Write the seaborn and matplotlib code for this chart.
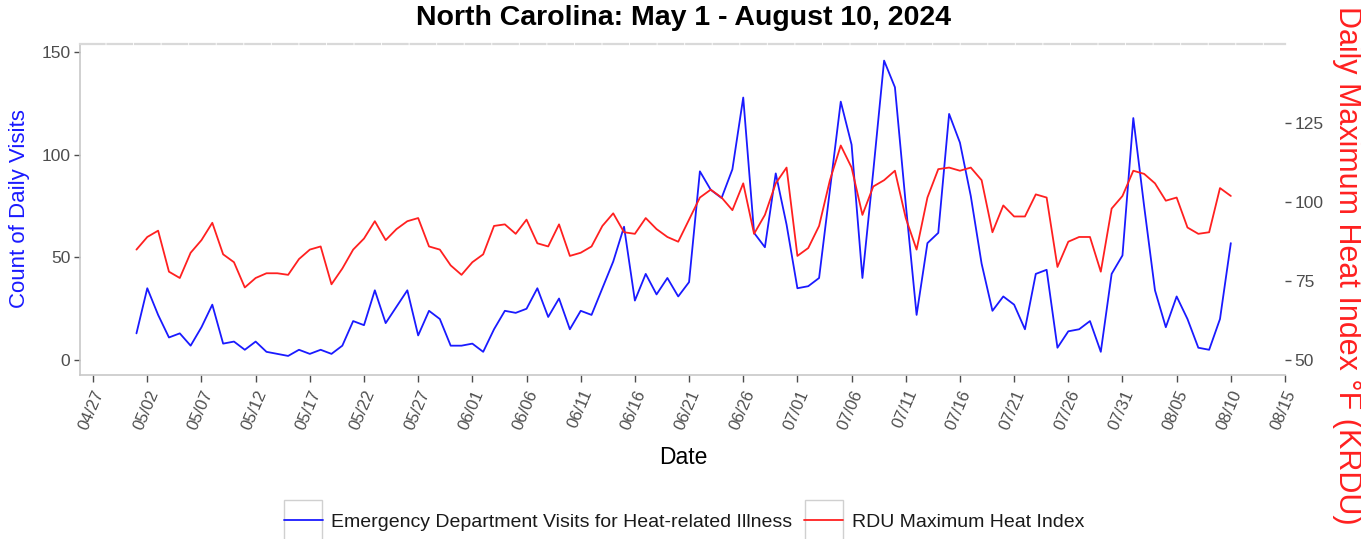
import numpy as np
import pandas as pd
import matplotlib
matplotlib.use("Agg")
import matplotlib.pyplot as plt
import matplotlib.dates as mdates
from matplotlib.patches import Rectangle
import seaborn as sns

# ---------------- data ----------------
start_date = "2024-05-01"
end_date = "2024-08-10"

ed_visits = [13, 35, 22, 11, 13, 7, 16, 27, 8, 9,
             5, 9, 4, 3, 2, 5, 3, 5, 3, 7,
             19, 17, 34, 18, 26, 34, 12, 24, 20, 7,
             7, 8, 4, 15, 24, 23, 25, 35, 21, 30,
             15, 24, 22, 35, 48, 65, 29, 42, 32, 40,
             31, 38, 92, 83, 79, 93, 128, 62, 55, 91,
             66, 35, 36, 40, 83, 126, 105, 40, 92, 146,
             133, 76, 22, 57, 62, 120, 106, 80, 47, 24,
             31, 27, 15, 42, 44, 6, 14, 15, 19, 4,
             42, 51, 118, 75, 34, 16, 31, 20, 6, 5,
             20, 57]

heat_index = [85, 89, 91, 78, 76, 84, 88, 93.5, 83.5, 81,
              73, 76, 77.5, 77.5, 77, 82, 85, 86, 74, 79,
              85, 88.5, 94, 88, 91.5, 94, 95, 86, 85, 80,
              77, 81, 83.5, 92.5, 93, 90, 94.5, 87, 86, 93,
              83, 84, 86, 92.5, 96.5, 90.5, 90, 95, 91.5, 89,
              87.5, 94.5, 101.5, 104, 101.5, 97.5, 106, 90, 96, 106,
              111, 83, 85.5, 92.5, 107, 118, 111, 96, 105, 107,
              110, 95, 85, 101.5, 110.5, 111, 110, 111, 107, 90.5,
              99, 95.5, 95.5, 102.5, 101.5, 79.5, 87.5, 89, 89, 78,
              98, 102, 110, 109, 106, 100.5, 101.5, 92, 90, 90.5,
              104.5, 102]

left_ticks = [0, 50, 100, 150]
right_ticks = [50, 75, 100, 125]
tick_start = "2024-04-27"
tick_end = "2024-08-15"

series_names = ["Emergency Department Visits for Heat-related Illness",
                "RDU Maximum Heat Index"]
title_text = "North Carolina: May 1 - August 10, 2024"
left_label = "Count of Daily Visits"
right_label = "Daily Maximum Heat Index \u00b0F (KRDU)"
x_label = "Date"

# ---------------- styling ----------------
sns.set_theme(style="white")
plt.rcParams['font.family'] = ['Liberation Sans', 'DejaVu Sans']

W, H = 1361, 539
fig = plt.figure(figsize=(W / 100, H / 100), dpi=100)
px_l, px_r, px_t, px_b = 80, 1285, 44, 375
ax = fig.add_axes([px_l / W, 1 - px_b / H, (px_r - px_l) / W, (px_b - px_t) / H])

dates = pd.date_range(start_date, end_date, freq="D")
df = pd.DataFrame({"Date": dates, "ED": ed_visits, "HI": heat_index})

blue = "#1a1aff"
red = "#ff2020"
grey_txt = "#4d4d4d"
axis_grey = "#c8c8c8"

sns.lineplot(data=df, x="Date", y="ED", ax=ax, color=blue, lw=1.3,
             label=series_names[0])
ax2 = ax.twinx()
sns.lineplot(data=df, x="Date", y="HI", ax=ax2, color=red, lw=1.3,
             label=series_names[1])

# limits
lo, hi = -7.3, 154.1
ax.set_ylim(lo, hi)
ax2.set_ylim(50 + 0.65 * lo, 50 + 0.65 * hi)
t0 = pd.Timestamp(start_date)
ax.set_xlim(t0 - pd.Timedelta(days=5.21), t0 + pd.Timedelta(days=105.95))

# ticks
ax.set_yticks(left_ticks)
ax2.set_yticks(right_ticks)
ax.set_xticks(pd.date_range(tick_start, tick_end, freq="5D"))
ax.xaxis.set_major_formatter(mdates.DateFormatter("%m/%d"))
for lab in ax.get_xticklabels():
    lab.set_rotation(67)
    lab.set_ha("right")
    lab.set_va("top")
    lab.set_rotation_mode("anchor")
    lab.set_fontsize(12)

ax.tick_params(axis="y", which="major", length=4, width=1.0,
               color=grey_txt, labelcolor=grey_txt, labelsize=12.5,
               direction="out", pad=3, left=True)
ax.tick_params(axis="x", length=5, width=1.0, color=grey_txt,
               labelcolor=grey_txt, pad=4, bottom=True, direction="out")
ax2.tick_params(axis="y", length=4, width=1.0, color=grey_txt,
                labelcolor=grey_txt, labelsize=12.5, direction="out",
                right=True, pad=3)

for a in (ax, ax2):
    a.grid(False)
    for s in a.spines.values():
        s.set_visible(False)
ax.spines["left"].set_visible(True)
ax.spines["left"].set_color(axis_grey)
ax.spines["left"].set_linewidth(1.2)
ax.spines["bottom"].set_visible(True)
ax.spines["bottom"].set_color(axis_grey)
ax.spines["bottom"].set_linewidth(1.2)
ax.spines["top"].set_visible(True)
ax.spines["top"].set_color("#d9d9d9")
ax.spines["top"].set_linewidth(1.6)
ax.spines["top"].set_linestyle((0, (11, 1.4)))

# labels
ax.set_xlabel("")
ax.set_ylabel("")
ax2.set_ylabel("")
fig.text(684 / W, 1 - 18 / H, title_text, ha="center", va="center",
         fontsize=20.5, fontweight="bold", color="black")
fig.text(20 / W, 1 - 209 / H, left_label, rotation=90, ha="center",
         va="center", fontsize=16, color=blue)
fig.text(1347 / W, 1 - 265 / H, right_label, rotation=270, ha="center",
         va="center", fontsize=22, color=red)
fig.text(683 / W, 1 - 457 / H, x_label, ha="center", va="center",
         fontsize=16.5, color="black")

# legend
h1, l1 = ax.get_legend_handles_labels()
h2, l2 = ax2.get_legend_handles_labels()
for a in (ax, ax2):
    if a.get_legend() is not None:
        a.get_legend().remove()
leg = fig.legend(h1 + h2, l1 + l2, loc="center", ncol=2,
                 bbox_to_anchor=(684 / W, 1 - 522 / H), frameon=False,
                 fontsize=14, handlelength=2.0, handletextpad=0.45,
                 columnspacing=0.6)
for t in leg.get_texts():
    t.set_color("#1a1a1a")

fig.canvas.draw()
for lh in leg.legend_handles:
    bb = lh.get_window_extent(fig.canvas.get_renderer())
    cx = (bb.x0 + bb.x1) / 2
    cy = (bb.y0 + bb.y1) / 2
    bw, bh = 38, 40
    fig.patches.append(Rectangle(((cx - bw / 2) / W, (cy - bh / 2) / H),
                                 bw / W, bh / H, transform=fig.transFigure,
                                 facecolor="white", edgecolor="#d0d0d0",
                                 lw=1.0, zorder=0))

fig.savefig("out.png", dpi=100)
